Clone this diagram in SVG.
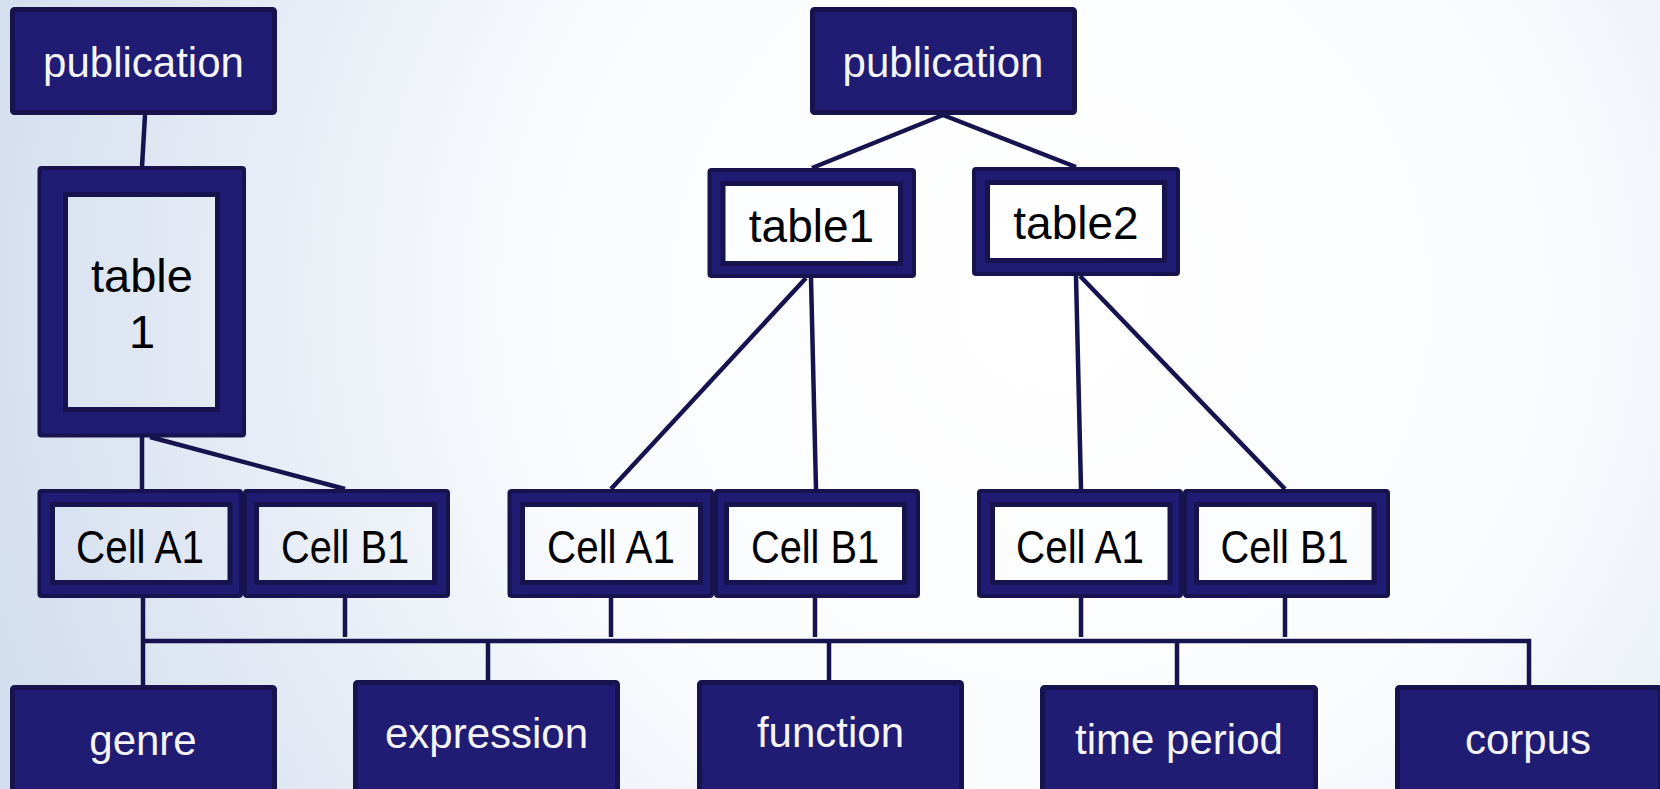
<svg xmlns="http://www.w3.org/2000/svg" width="1660" height="789" viewBox="0 0 1660 789">
  <defs>
    <radialGradient id="bg" gradientUnits="userSpaceOnUse" cx="1050" cy="300" r="1100">
      <stop offset="0" stop-color="#ffffff"/>
      <stop offset="0.45" stop-color="#fbfcfe"/>
      <stop offset="1" stop-color="#d3deee"/>
    </radialGradient>
  </defs>
  <style>
    .box { fill: #201b73; stroke: #16134f; stroke-width: 5; }
    .frame { fill: #201b73; stroke: #16134f; stroke-width: 4; }
    .well { fill: url(#bg); stroke: #16134f; stroke-width: 5; }
    .lbl { font-family: "Liberation Sans", Arial, sans-serif; text-anchor: middle; }
    .light { fill: #f4f4fa; font-size: 42px; }
    .dark { fill: #000000; }
    .cell { font-size: 46px; }
    .conn line, .conn path { stroke: #16134f; stroke-width: 4.5; fill: none; }
  </style>

  <rect x="0" y="0" width="1660" height="789" fill="url(#bg)"/>

  <!-- connectors -->
  <g id="connectors" class="conn">
    <line x1="145" y1="115" x2="142" y2="167"/>
    <line x1="142" y1="437" x2="142" y2="489"/>
    <line x1="150" y1="437" x2="345" y2="489"/>
    <line x1="943" y1="115" x2="812" y2="168"/>
    <line x1="943" y1="115" x2="1076" y2="167"/>
    <line x1="806" y1="278" x2="611" y2="489"/>
    <line x1="811" y1="278" x2="816" y2="489"/>
    <line x1="1076" y1="276" x2="1081" y2="489"/>
    <line x1="1080" y1="276" x2="1285" y2="489"/>
    <!-- cell stubs and shared bus -->
    <path d="M143,598 V685"/>
    <path d="M143,641 H1529 V685"/>
    <line x1="345" y1="598" x2="345" y2="637"/>
    <line x1="611" y1="598" x2="611" y2="637"/>
    <line x1="815" y1="598" x2="815" y2="637"/>
    <line x1="1081" y1="598" x2="1081" y2="637"/>
    <line x1="1285" y1="598" x2="1285" y2="637"/>
    <line x1="488" y1="641" x2="488" y2="680"/>
    <line x1="829" y1="641" x2="829" y2="680"/>
    <line x1="1177" y1="641" x2="1177" y2="685"/>
    <rect x="870" y="785" width="18" height="4" fill="#16134f"/>
  </g>

  <!-- top level -->
  <g id="pub-left">
    <rect class="box" x="12.5" y="9.5" width="262" height="103" rx="2"/>
    <text class="lbl light" x="143.5" y="77">publication</text>
  </g>
  <g id="pub-mid">
    <rect class="box" x="812.5" y="9.5" width="262" height="103" rx="2"/>
    <text class="lbl light" x="943" y="77">publication</text>
  </g>

  <!-- tables -->
  <g id="table1-left">
    <rect class="frame" x="39.5" y="168" width="204.5" height="267.5" rx="2"/>
    <rect class="well" x="65.5" y="194.5" width="152" height="215"/>
    <text class="lbl dark" x="142" y="292" font-size="47">table</text>
    <text class="lbl dark" x="142" y="348" font-size="47">1</text>
  </g>
  <g id="table1-mid">
    <rect class="frame" x="709.5" y="170" width="204.5" height="106" rx="2"/>
    <rect class="well" x="723" y="183.5" width="177.5" height="80"/>
    <text class="lbl dark" x="811.5" y="242" font-size="46">table1</text>
  </g>
  <g id="table2-mid">
    <rect class="frame" x="974" y="169" width="204" height="105" rx="2"/>
    <rect class="well" x="987.5" y="182.5" width="177" height="78"/>
    <text class="lbl dark" x="1076" y="239" font-size="46">table2</text>
  </g>

  <!-- cells -->
  <g id="cellA1-left">
    <rect class="frame" x="39.5" y="491" width="201.5" height="105" rx="2"/>
    <rect class="well" x="52.5" y="504.5" width="177.5" height="78"/>
    <text class="lbl dark cell" x="140" y="563" textLength="128" lengthAdjust="spacingAndGlyphs">Cell A1</text>
  </g>
  <g id="cellB1-left">
    <rect class="frame" x="245" y="491" width="203" height="105" rx="2"/>
    <rect class="well" x="256.5" y="504.5" width="178" height="78"/>
    <text class="lbl dark cell" x="345" y="563" textLength="128" lengthAdjust="spacingAndGlyphs">Cell B1</text>
  </g>
  <g id="cellA1-mid">
    <rect class="frame" x="509.5" y="491" width="202.5" height="105" rx="2"/>
    <rect class="well" x="522.5" y="504.5" width="178" height="78"/>
    <text class="lbl dark cell" x="611" y="563" textLength="128" lengthAdjust="spacingAndGlyphs">Cell A1</text>
  </g>
  <g id="cellB1-mid">
    <rect class="frame" x="716" y="491" width="202" height="105" rx="2"/>
    <rect class="well" x="726.5" y="504.5" width="178" height="78"/>
    <text class="lbl dark cell" x="815" y="563" textLength="128" lengthAdjust="spacingAndGlyphs">Cell B1</text>
  </g>
  <g id="cellA1-right">
    <rect class="frame" x="979" y="491" width="202" height="105" rx="2"/>
    <rect class="well" x="992.5" y="504.5" width="177.5" height="78"/>
    <text class="lbl dark cell" x="1080" y="563" textLength="128" lengthAdjust="spacingAndGlyphs">Cell A1</text>
  </g>
  <g id="cellB1-right">
    <rect class="frame" x="1185" y="491" width="203" height="105" rx="2"/>
    <rect class="well" x="1196.5" y="504.5" width="177.5" height="78"/>
    <text class="lbl dark cell" x="1284.5" y="563" textLength="128" lengthAdjust="spacingAndGlyphs">Cell B1</text>
  </g>

  <!-- categories -->
  <g id="genre">
    <rect class="box" x="12.5" y="687.5" width="262" height="120" rx="2"/>
    <text class="lbl light" x="143" y="755">genre</text>
  </g>
  <g id="expression">
    <rect class="box" x="355.5" y="682.5" width="262" height="120" rx="2"/>
    <text class="lbl light" x="486.5" y="748">expression</text>
  </g>
  <g id="function">
    <rect class="box" x="699.5" y="682.5" width="262" height="120" rx="2"/>
    <text class="lbl light" x="830.5" y="747">function</text>
  </g>
  <g id="time-period">
    <rect class="box" x="1042.5" y="687.5" width="273" height="120" rx="2"/>
    <text class="lbl light" x="1179" y="754">time period</text>
  </g>
  <g id="corpus">
    <rect class="box" x="1397.5" y="687.5" width="263" height="120" rx="2"/>
    <text class="lbl light" x="1528" y="754">corpus</text>
  </g>
</svg>
